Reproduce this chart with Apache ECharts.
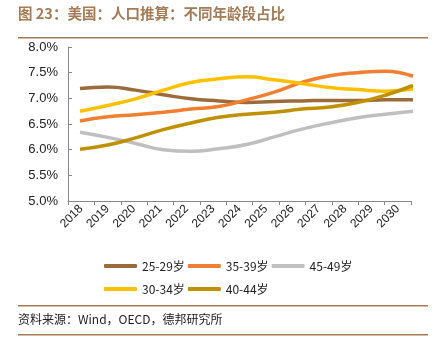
<!DOCTYPE html>
<html>
<head>
<meta charset="utf-8">
<script src="https://cdn.jsdelivr.net/npm/echarts@6/dist/echarts.min.js"></script>
<style>
  html, body { margin: 0; padding: 0; background: #fff; }
  #main { width: 437px; height: 351px; }
</style>
</head>
<body>
<div id="main"></div>
<script>
var years = ['2018', '2019', '2020', '2021', '2022', '2023', '2024', '2025', '2026', '2027', '2028', '2029', '2030'];
var age25_29 = [7.19, 7.22, 7.16, 7.07, 6.99, 6.95, 6.92, 6.94, 6.95, 6.96, 6.96, 6.97, 6.97];
var age30_34 = [6.75, 6.86, 6.99, 7.16, 7.31, 7.38, 7.42, 7.36, 7.29, 7.21, 7.17, 7.14, 7.18];
var age35_39 = [6.56, 6.64, 6.68, 6.73, 6.79, 6.84, 6.97, 7.12, 7.31, 7.44, 7.50, 7.53, 7.43];
var age40_44 = [6.01, 6.09, 6.23, 6.39, 6.52, 6.63, 6.69, 6.73, 6.79, 6.83, 6.92, 7.06, 7.25];
var age45_49 = [6.34, 6.24, 6.12, 6.00, 5.97, 6.02, 6.10, 6.25, 6.40, 6.52, 6.62, 6.69, 6.75];
var yTicks = [5.0, 8.0, 0.5]; // min, max, 间隔

var cjk = '"Noto Sans CJK SC", sans-serif';
var latin = '"Liberation Sans", Arial, sans-serif';

// 折线画在第二个网格里（隐藏坐标轴），使线条从首个标签处延伸到轴末端
function line(name, data, color) {
  return {
    name: name,
    type: 'line',
    xAxisIndex: 1,
    yAxisIndex: 1,
    data: data,
    smooth: true,
    symbol: 'none',
    lineStyle: { color: color, width: 3.5 },
    itemStyle: { color: color }
  };
}

var legendText = { fontFamily: cjk, fontSize: 12, color: '#222' };

var myChart = echarts.init(document.getElementById('main'));
var option = {
  animation: false,
  grid: [
    { left: 68, right: 26, top: 47, bottom: 150 },
    { left: 80, right: 24, top: 47, bottom: 150 }
  ],
  legend: [
    {
      data: ['25-29岁', '35-39岁', '45-49岁'],
      left: 99, top: 255, itemWidth: 33, itemHeight: 4, itemGap: 3,
      icon: 'roundRect', textStyle: legendText
    },
    {
      data: ['30-34岁', '40-44岁'],
      left: 99, top: 278, itemWidth: 33, itemHeight: 4, itemGap: 3,
      icon: 'roundRect', textStyle: legendText
    }
  ],
  xAxis: [
    {
      type: 'category',
      gridIndex: 0,
      data: years,
      boundaryGap: true,
      axisLine: { lineStyle: { color: '#888', width: 1 } },
      axisTick: { show: true, length: 4, lineStyle: { color: '#888' } },
      axisLabel: { rotate: 45, fontSize: 12, color: '#222', fontFamily: latin, margin: 6 }
    },
    {
      type: 'category',
      gridIndex: 1,
      data: years,
      boundaryGap: false,
      show: false
    }
  ],
  yAxis: [
    {
      type: 'value',
      gridIndex: 0,
      min: yTicks[0],
      max: yTicks[1],
      interval: yTicks[2],
      axisLine: { show: true, lineStyle: { color: '#888', width: 1 } },
      axisTick: { show: true, inside: true, length: 4, lineStyle: { color: '#888' } },
      splitLine: { show: false },
      axisLabel: {
        fontSize: 13, color: '#222', fontFamily: latin, margin: 10,
        formatter: function (v) { return v.toFixed(1) + '%'; }
      }
    },
    {
      type: 'value',
      gridIndex: 1,
      min: yTicks[0],
      max: yTicks[1],
      interval: yTicks[2],
      show: false,
      splitLine: { show: false }
    }
  ],
  series: [
    line('25-29岁', age25_29, '#9C6B3A'),
    line('35-39岁', age35_39, '#F07F31'),
    line('45-49岁', age45_49, '#BFBFBF'),
    line('30-34岁', age30_34, '#FFC000'),
    line('40-44岁', age40_44, '#BF9000')
  ],
  graphic: [
    {
      type: 'text', left: 18, top: 6,
      style: { text: '图 23：美国：人口推算：不同年龄段占比', fontFamily: cjk, fontSize: 14.5, fontWeight: 'bold', fill: '#A57B55' }
    },
    { type: 'rect', shape: { x: 18, y: 37, width: 410, height: 1.5 }, style: { fill: '#A57B55' } },
    { type: 'rect', shape: { x: 18, y: 305, width: 410, height: 1.5 }, style: { fill: '#A57B55' } },
    {
      type: 'text', left: 18, top: 313,
      style: { text: '资料来源：Wind，OECD，德邦研究所', fontFamily: cjk, fontSize: 12, fill: '#222' }
    },
    { type: 'rect', shape: { x: 18, y: 334, width: 410, height: 1.5 }, style: { fill: '#A57B55' } }
  ]
};
myChart.setOption(option);
</script>
</body>
</html>
